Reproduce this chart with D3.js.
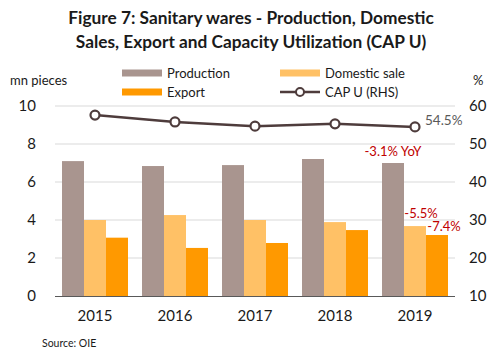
<!DOCTYPE html>
<html><head><meta charset="utf-8">
<script src="https://cdn.jsdelivr.net/npm/d3@7"></script>
<style>body{margin:0;background:#fff;} svg{display:block;font-family:Lato, "Open Sans", sans-serif;}</style>
</head><body>
<script>
const years = ["2015","2016","2017","2018","2019"];
const production = [7.1, 6.84, 6.89, 7.21, 7.0];
const domestic = [4.0, 4.26, 4.0, 3.89, 3.68];
const exportVals = [3.07, 2.53, 2.79, 3.47, 3.21];
const capU = [57.6, 55.8, 54.7, 55.3, 54.5];
const leftTicks = [0, 2, 4, 6, 8, 10];
const rightTicks = [10, 20, 30, 40, 50, 60];
const seriesNames = ["Production", "Domestic sale", "Export", "CAP U (RHS)"];
const colors = ["#a9958f", "#ffc166", "#ff9900", "#4e3c3c"];

const W = 499, H = 359;
const svg = d3.select("body").append("svg").attr("width", W).attr("height", H);
const m = {left: 55, right: 455, top: 106, bottom: 296};

const x = d3.scaleBand().domain(years).range([m.left, m.right]).paddingInner(14/80).paddingOuter(7/80);
const xs = d3.scaleBand().domain([0,1,2]).range([0, x.bandwidth()]);
const yL = d3.scaleLinear().domain([0, 10]).range([m.bottom, m.top]);
const yR = d3.scaleLinear().domain([10, 60]).range([m.bottom, m.top]);

// title
const title = svg.append("g").attr("font-weight", "bold").attr("font-size", 17.3).attr("text-anchor", "middle").attr("fill", "#1a1a1a");
title.append("text").attr("x", 251).attr("y", 24).text("Figure 7: Sanitary wares - Production, Domestic");
title.append("text").attr("x", 251).attr("y", 48).text("Sales, Export and Capacity Utilization (CAP U)");

// gridlines
svg.append("g").selectAll("line").data(leftTicks.filter(d => d > 0)).join("line")
  .attr("x1", m.left).attr("x2", m.right).attr("y1", d => yL(d)).attr("y2", d => yL(d))
  .attr("stroke", "#d9d9d9").attr("stroke-width", 1);

// bars
const series = [production, domestic, exportVals];
series.forEach((s, i) => {
  svg.append("g").selectAll("rect").data(s).join("rect")
    .attr("x", (d, j) => x(years[j]) + xs(i))
    .attr("width", xs.bandwidth())
    .attr("y", d => yL(d))
    .attr("height", d => yL(0) - yL(d))
    .attr("fill", colors[i]);
});

// baseline
svg.append("line").attr("x1", m.left).attr("x2", m.right).attr("y1", m.bottom + 0.5).attr("y2", m.bottom + 0.5)
  .attr("stroke", "#595959").attr("stroke-width", 1);

// axes
const axL = d3.axisLeft(yL).tickValues(leftTicks).tickSize(0).tickPadding(0);
const gL = svg.append("g").attr("transform", `translate(36,0)`).call(axL);
gL.select(".domain").remove();
gL.selectAll("text").attr("font-size", 15).attr("fill", "#1a1a1a").attr("font-family", "Lato, sans-serif");

const axR = d3.axisRight(yR).tickValues(rightTicks).tickSize(0).tickPadding(0);
const gR = svg.append("g").attr("transform", `translate(469,0)`).call(axR);
gR.select(".domain").remove();
gR.selectAll("text").attr("font-size", 15).attr("fill", "#1a1a1a").attr("font-family", "Lato, sans-serif");

const axB = d3.axisBottom(x).tickSize(0).tickPadding(0);
const gB = svg.append("g").attr("transform", `translate(0,${m.bottom + 14})`).call(axB);
gB.select(".domain").remove();
gB.selectAll("text").attr("font-size", 15).attr("fill", "#1a1a1a").attr("font-family", "Lato, sans-serif");

// line
const line = d3.line().x((d, i) => x(years[i]) + x.bandwidth() / 2).y(d => yR(d));
svg.append("path").datum(capU).attr("d", line).attr("fill", "none").attr("stroke", colors[3]).attr("stroke-width", 2.5);
svg.append("g").selectAll("circle").data(capU).join("circle")
  .attr("cx", (d, i) => x(years[i]) + x.bandwidth() / 2).attr("cy", d => yR(d)).attr("r", 4.5)
  .attr("fill", "#fff").attr("stroke", colors[3]).attr("stroke-width", 2.2);

// annotations
svg.append("text").attr("x", x("2019") + x.bandwidth() / 2 + 10).attr("y", yR(capU[4]) - 2)
  .attr("font-size", 13.5).attr("fill", "#595959").text("54.5%");
svg.append("text").attr("x", x("2019") + xs(0) + xs.bandwidth() / 2).attr("y", yL(production[4]) - 7)
  .attr("font-size", 13).attr("fill", "#c00000").attr("text-anchor", "middle").text("-3.1% YoY");
svg.append("text").attr("x", x("2019") + xs(1) + xs.bandwidth() / 2 + 6).attr("y", yL(domestic[4]) - 8)
  .attr("font-size", 13).attr("fill", "#c00000").attr("text-anchor", "middle").text("-5.5%");
svg.append("text").attr("x", x("2019") + xs(2) + xs.bandwidth() / 2 + 7).attr("y", yL(exportVals[4]) - 4)
  .attr("font-size", 13).attr("fill", "#c00000").attr("text-anchor", "middle").text("-7.4%");

// axis titles
svg.append("text").attr("x", 10).attr("y", 85).attr("font-size", 13).attr("fill", "#1a1a1a").text("mn pieces");
svg.append("text").attr("x", 473).attr("y", 85).attr("font-size", 13).attr("fill", "#1a1a1a").text("%");

// legend
const leg = [
  {x: 122, y: 73, i: 0}, {x: 280, y: 73, i: 1}, {x: 122, y: 92, i: 2}, {x: 280, y: 92, i: 3}
];
leg.forEach(l => {
  if (l.i < 3) {
    svg.append("rect").attr("x", l.x).attr("y", l.y - 3.5).attr("width", 40).attr("height", 7).attr("fill", colors[l.i]);
  } else {
    svg.append("line").attr("x1", l.x).attr("x2", l.x + 40).attr("y1", l.y).attr("y2", l.y).attr("stroke", colors[3]).attr("stroke-width", 2.5);
    svg.append("circle").attr("cx", l.x + 20).attr("cy", l.y).attr("r", 4).attr("fill", "#fff").attr("stroke", colors[3]).attr("stroke-width", 2);
  }
  svg.append("text").attr("x", l.x + 45).attr("y", l.y + 4.5).attr("font-size", 13).attr("fill", "#1a1a1a").text(seriesNames[l.i]);
});

// source
svg.append("text").attr("x", 42).attr("y", 347).attr("font-size", 10.5).attr("fill", "#1a1a1a").text("Source: OIE");
</script>
</body></html>
